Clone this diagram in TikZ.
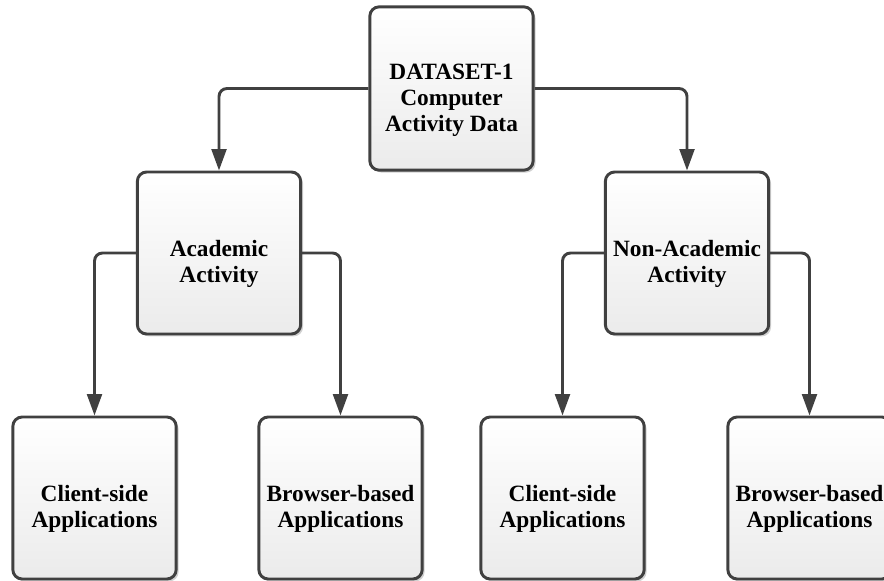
\documentclass[tikz,border=0pt]{standalone}
\usepackage{fontspec}
\setmainfont{Liberation Serif}
\usetikzlibrary{arrows.meta,shadows}
\definecolor{linegray}{HTML}{404040}
\definecolor{boxbot}{HTML}{EBEBEB}
\begin{document}
\begin{tikzpicture}[x=0.75pt,y=-0.75pt,
  box/.style={draw=linegray, line width=2.2pt, rounded corners=7pt,
    top color=white, bottom color=boxbot, inner sep=0pt,
    minimum width=122.5pt, minimum height=121.5pt,
    drop shadow={shadow xshift=1.8pt, shadow yshift=-1.8pt, opacity=0.18, fill=black}},
  lbl/.style={font=\fontsize{17.5}{19.5}\selectfont\bfseries, align=center, inner sep=0pt, yshift=-8.5pt},
  conn/.style={draw=linegray, line width=2.2pt, rounded corners=6pt,
    -{Triangle[length=16pt,width=11pt]}}]
\useasboundingbox (0,0) rectangle (884,581);

\node[box, minimum height=122.5pt, label={[lbl]center:{DATASET-1\\Computer\\Activity Data}}] (top) at (451.5,88.5) {};
\node[box, label={[lbl]center:{Academic\\Activity}}] (acad) at (219,253) {};
\node[box, label={[lbl]center:{Non-Academic\\Activity}}] (nonacad) at (687,253) {};

\node[box, label={[lbl]center:{Client-side\\Applications}}] (cs1) at (94.5,498) {};
\node[box, label={[lbl]center:{Browser-based\\Applications}}] (bb1) at (340.5,498) {};
\node[box, label={[lbl]center:{Client-side\\Applications}}] (cs2) at (562.5,498) {};
\node[box, label={[lbl]center:{Browser-based\\Applications}}] (bb2) at (809.5,498) {};

\draw[conn] (top.west) -| (acad.north);
\draw[conn] (top.east) -| (nonacad.north);
\draw[conn] (acad.west) -| (cs1.north);
\draw[conn] (acad.east) -| (bb1.north);
\draw[conn] (nonacad.west) -| (cs2.north);
\draw[conn] (nonacad.east) -| (bb2.north);
\end{tikzpicture}
\end{document}
